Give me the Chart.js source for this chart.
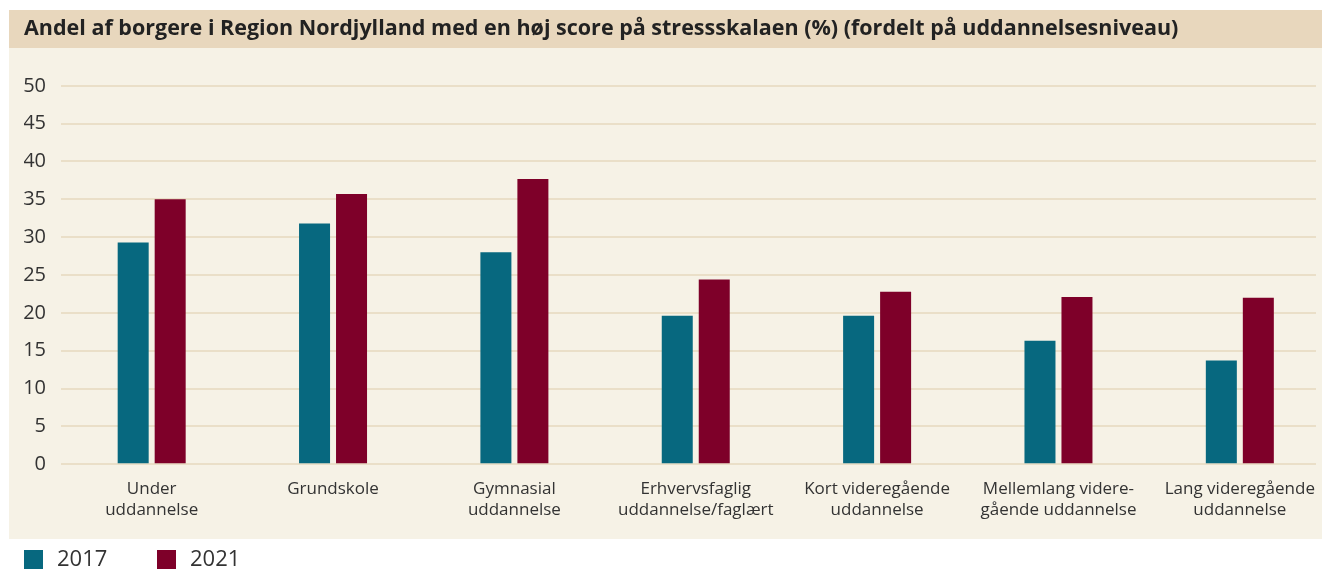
<!DOCTYPE html>
<html>
<head>
<meta charset="utf-8">
<script src="https://cdn.jsdelivr.net/npm/chart.js@4"></script>
<style>
  html, body { margin: 0; padding: 0; background: #fff; }
  #wrap { width: 1322px; height: 571px; }
</style>
</head>
<body>
<div id="wrap"><canvas id="chart"></canvas></div>
<script>
const categories = [
  ["Under", "uddannelse"],
  ["Grundskole"],
  ["Gymnasial", "uddannelse"],
  ["Erhvervsfaglig", "uddannelse/faglært"],
  ["Kort videregående", "uddannelse"],
  ["Mellemlang videre-", "gående uddannelse"],
  ["Lang videregående", "uddannelse"]
];
const values2017 = [29.3, 31.8, 28.0, 19.6, 19.6, 16.3, 13.7];
const values2021 = [35.0, 35.7, 37.7, 24.4, 22.8, 22.1, 22.0];
const seriesLabels = ["2017", "2021"];
const seriesColors = ["#07687f", "#7e0029"];
const yTicks = [0, 5, 10, 15, 20, 25, 30, 35, 40, 45, 50];

const FONT = "'Open Sans', 'Noto Sans', sans-serif";

// background band + panel
const panels = {
  id: "panels",
  beforeDraw(chart) {
    const c = chart.ctx;
    c.save();
    c.fillStyle = "#ffffff";
    c.fillRect(0, 0, chart.width, chart.height);
    c.fillStyle = "#e8d7bd";
    c.fillRect(9, 10, chart.width - 9, 38);
    c.fillStyle = "#f6f2e6";
    c.fillRect(9, 48, chart.width - 9, 491);
    c.restore();
  }
};

// legend below the panel
const bottomLegend = {
  id: "bottomLegend",
  afterDraw(chart) {
    const c = chart.ctx;
    const xs = [24, 157];
    c.save();
    c.font = "22px " + FONT;
    c.textBaseline = "middle";
    chart.data.datasets.forEach((ds, i) => {
      c.fillStyle = ds.backgroundColor;
      c.fillRect(xs[i], 550, 19, 19);
      c.fillStyle = "#333333";
      c.fillText(ds.label, xs[i] + 33, 560);
    });
    c.restore();
  }
};

const toPoints = arr => arr.map((v, i) => ({x: i, y: v}));

new Chart(document.getElementById("chart"), {
  type: "bar",
  data: {
    datasets: [
      {label: seriesLabels[0], data: toPoints(values2017), backgroundColor: seriesColors[0]},
      {label: seriesLabels[1], data: toPoints(values2021), backgroundColor: seriesColors[1]}
    ]
  },
  options: {
    responsive: true,
    maintainAspectRatio: false,
    animation: false,
    categoryPercentage: 0.408,
    barPercentage: 0.838,
    layout: {padding: {left: 24, right: 6, top: 0, bottom: 44}},
    plugins: {
      legend: {display: false},
      tooltip: {enabled: false},
      title: {
        display: true,
        text: "Andel af borgere i Region Nordjylland med en høj score på stressskalaen (%) (fordelt på uddannelsesniveau)",
        align: "start",
        color: "#222222",
        font: {family: FONT, size: 21.5, weight: "bold", lineHeight: 1.2},
        padding: {top: 16, bottom: 44}
      }
    },
    scales: {
      x: {
        type: "linear",
        offset: false,
        min: -0.5,
        max: 6.42,
        grid: {display: false},
        border: {display: false},
        afterBuildTicks(scale) {
          scale.ticks = categories.map((c, i) => ({value: i}));
        },
        afterFit(scale) {
          scale.paddingLeft = 0;
          scale.paddingRight = 0;
        },
        ticks: {
          autoSkip: false,
          maxRotation: 0,
          padding: 7,
          color: "#333333",
          font: {family: FONT, size: 17, lineHeight: 1.2},
          callback: v => categories[v]
        }
      },
      y: {
        min: 0,
        max: 50,
        afterBuildTicks(scale) {
          scale.ticks = yTicks.map(v => ({value: v}));
        },
        afterFit(scale) {
          scale.width = 37;
        },
        border: {display: false},
        grid: {color: "#eadfc8", lineWidth: 2, drawTicks: false},
        ticks: {
          padding: 15,
          color: "#333333",
          font: {family: FONT, size: 20}
        }
      }
    }
  },
  plugins: [panels, bottomLegend]
});
</script>
</body>
</html>
